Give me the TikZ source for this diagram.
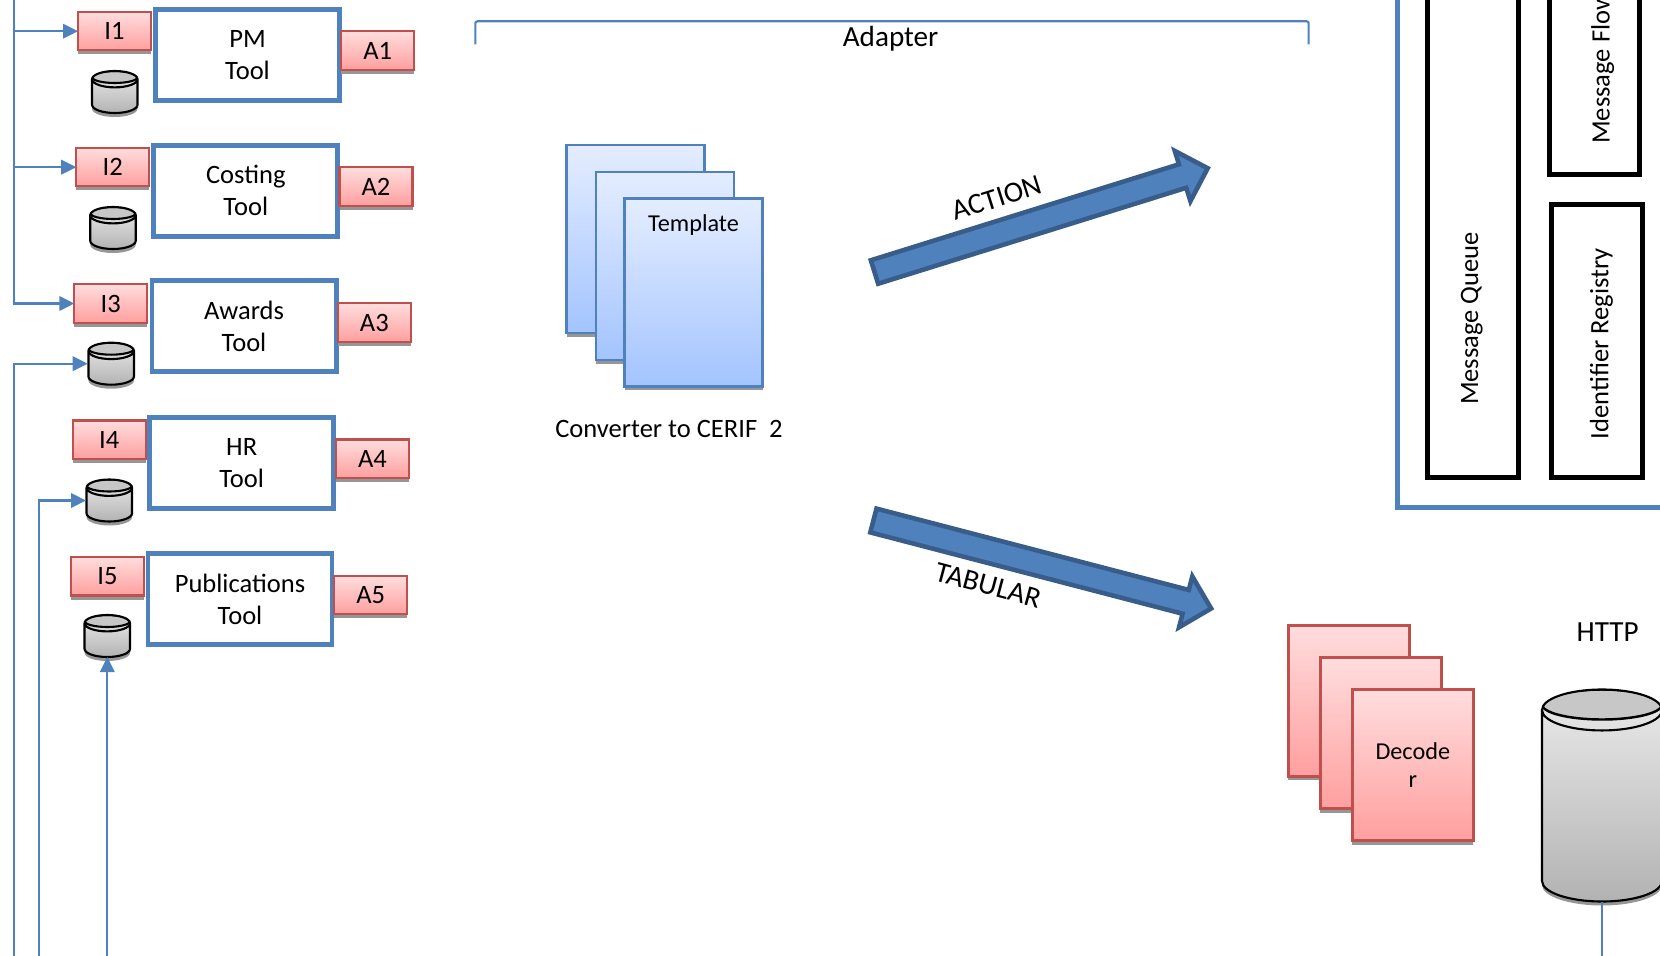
\documentclass[tikz,border=0pt]{standalone}
\usepackage{fontspec}
\setmainfont{Carlito}
\usetikzlibrary{arrows.meta,shapes.geometric,shapes.arrows,shadows}

\definecolor{toolblue}{HTML}{4F81BD}
\definecolor{arrowblue}{HTML}{385D8A}
\definecolor{alertred}{HTML}{C0504D}
\definecolor{dropgray}{HTML}{969696}
\definecolor{redtop}{HTML}{FFDDDD}
\definecolor{redbottom}{HTML}{FF9F9F}
\definecolor{bluetop}{HTML}{E4EDFF}
\definecolor{bluebottom}{HTML}{A3C4FF}

\tikzset{
  txt/.style={font=\fontsize{7.55}{9.1}\selectfont, align=center, inner sep=0, outer sep=0},
  bigtxt/.style={font=\fontsize{8.3}{10}\selectfont, align=center, inner sep=0, outer sep=0},
  smalltxt/.style={font=\fontsize{6.9}{8}\selectfont, align=center, inner sep=0, outer sep=0},
  strip/.style={drop shadow={shadow xshift=0cm, shadow yshift=-0.04cm, opacity=1, fill=dropgray}},
  tool/.style={txt, draw=toolblue, fill=white, line width=1.42pt, minimum width=1.84cm, minimum height=0.91cm},
  port/.style={txt, strip, draw=alertred, line width=0.6pt, top color=redtop, bottom color=redbottom, minimum width=0.73cm, minimum height=0.385cm},
  sheet/.style={smalltxt, strip, draw=toolblue, line width=0.6pt, top color=bluetop, bottom color=bluebottom, minimum width=1.38cm, minimum height=1.88cm},
  decoder/.style={smalltxt, strip, draw=alertred, line width=0.7pt, top color=redtop, bottom color=redbottom, minimum width=1.21cm, minimum height=1.51cm},
  database/.style 2 args={cylinder, shape border rotate=90, anchor=shape center, draw=black, line width=0.6pt, outer sep=0, inner sep=0.117cm,
    strip, top color=black!8, bottom color=black!30, minimum width=#1, shape aspect=#2},
  smalldb/.style={database={0.455cm}{0.7}, minimum height=0.42cm,
    path picture={\draw[fill=black!22, line width=0.6pt] ([yshift=-0.06cm]path picture bounding box.north) ellipse [x radius=0.23, y radius=0.06];}},
  bigdb/.style={database={1.2cm}{1.75}, minimum height=2.12cm,
    path picture={\draw[fill=black!22, line width=0.7pt] ([yshift=-0.15cm]path picture bounding box.north) ellipse [x radius=0.6, y radius=0.15];}},
  link/.style={draw=toolblue, line width=0.6pt, -{Triangle[length=0.15cm,width=0.145cm]}},
  plain/.style={draw=toolblue, line width=0.6pt},
  panel/.style={draw=black, fill=white, line width=1.42pt, minimum width=0.905cm, outer sep=0, inner sep=0},
  flow/.style={single arrow, draw=arrowblue, fill=toolblue, line width=1.3pt, outer sep=0, inner sep=0, inner ysep=0.1cm,
    minimum width=0.505cm, single arrow head extend=0.14cm, anchor=tail},
}

\begin{document}
\begin{tikzpicture}
    \useasboundingbox (0,0) rectangle (16.6,-9.56);

    % Tools
    \node[tool] (PM) at (2.475,-0.55) {PM\\Tool};
    \node[tool] (Costing) at (2.458,-1.907) {Costing\\Tool};
    \node[tool] (Awards) at (2.44,-3.263) {Awards\\Tool};
    \node[tool] (HR) at (2.417,-4.63) {HR\\Tool};
    \node[tool] (Publications) at (2.40,-5.989) {Publications\\Tool};

    % Input ports
    \node[port] (I1) at (1.145,-0.312) {I1};
    \node[port] (I2) at (1.127,-1.672) {I2};
    \node[port] (I3) at (1.108,-3.035) {I3};
    \node[port] (I4) at (1.092,-4.397) {I4};
    \node[port] (I5) at (1.075,-5.763) {I5};

    % Output ports
    \node[port] (A1) at (3.777,-0.505) {A1};
    \node[port] (A2) at (3.76,-1.865) {A2};
    \node[port] (A3) at (3.743,-3.225) {A3};
    \node[port] (A4) at (3.725,-4.588) {A4};
    \node[port] (A5) at (3.707,-5.95) {A5};

    % Stores
    \node[smalldb] (S1) at (1.148,-0.92) {};
    \node[smalldb] (S2) at (1.13,-2.28) {};
    \node[smalldb] (S3) at (1.112,-3.637) {};
    \node[smalldb] (S4) at (1.093,-5.005) {};
    \node[smalldb] (S5) at (1.073,-6.36) {};

    % Free ends of the lines
    \coordinate (TopBus) at (0.14,0);
    \coordinate (BusA) at (0.14,-9.56);
    \coordinate (BusB) at (0.387,-9.56);
    \coordinate (BusC) at (1.073,-9.56);
    \coordinate (S3side) at (0.877,-3.637);
    \coordinate (S4side) at (0.86,-5.005);

    % Lines
    \draw[link] (TopBus) |- (I1.west);
    \draw[link] (TopBus) |- (I2.west);
    \draw[link] (TopBus) |- (I3.west);
    \draw[link] (BusA) |- (S3side);
    \draw[link] (BusB) |- (S4side);
    \draw[link] (BusC) -- (S5.south);

    % Adapter
    \coordinate (AdLeft) at (4.754,-0.443);
    \coordinate (AdRight) at (13.086,-0.443);
    \draw[plain, rounded corners=0.02cm] (AdLeft) -- (4.754,-0.213) -- (13.086,-0.213) -- (AdRight);
    \node[bigtxt] (Adapter) at (8.906,-0.385) {Adapter};

    % Templates
    \node[sheet] (T1) at (6.355,-2.39) {};
    \node[sheet] (T2) at (6.648,-2.66) {};
    \node[sheet, text depth=1.38cm] (T3) at (6.935,-2.925) {Template};
    \node[txt] (Converter) at (6.69,-4.29) {Converter to CERIF\ \ 2};

    % Arrows
    \node[flow, rotate=17.3, minimum height=3.49cm] (Action) at (8.745,-2.72) {};
    \node[flow, rotate=-14.6, minimum height=3.49cm] (Tabular) at (8.734,-5.205) {};
    \node[bigtxt, rotate=17.5] (ActionText) at (9.97,-1.98) {ACTION};
    \node[bigtxt, rotate=-15] (TabularText) at (9.88,-5.855) {TABULAR};

    % Decoders
    \node[decoder] (D1) at (13.488,-7.008) {};
    \node[decoder] (D2) at (13.808,-7.33) {};
    \node[decoder] (D3) at (14.128,-7.65) {Decode\\r};

    % HTTP
    \node[bigdb] (Http) at (16.02,-7.955) {};
    \node[bigtxt] (HttpText) at (16.077,-6.317) {HTTP};
    \coordinate (HttpEnd) at (16.02,-9.56);
    \draw[plain] (Http.south) -- (HttpEnd);

    % Panel
    \node[draw=toolblue, line width=1.42pt, minimum width=4cm, minimum height=6cm, anchor=south west, outer sep=0] (Panel) at (13.975,-5.075) {};
    \node[panel, minimum height=5.2cm, anchor=south] (Queue) at (14.73,-4.775) {};
    \node[txt, rotate=90] (QueueText) at (14.717,-3.185) {Message Queue};
    \node[panel, minimum height=2.3cm, anchor=south] (Flow) at (15.943,-1.747) {};
    \node[txt, rotate=90, anchor=west] (FlowText) at (16.027,-1.437) {Message Flow};
    \node[panel, minimum width=0.907cm, minimum height=2.725cm] (Registry) at (15.97,-3.412) {};
    \node[txt, rotate=90] (RegistryText) at (16.014,-3.438) {Identifier Registry};
\end{tikzpicture}
\end{document}
